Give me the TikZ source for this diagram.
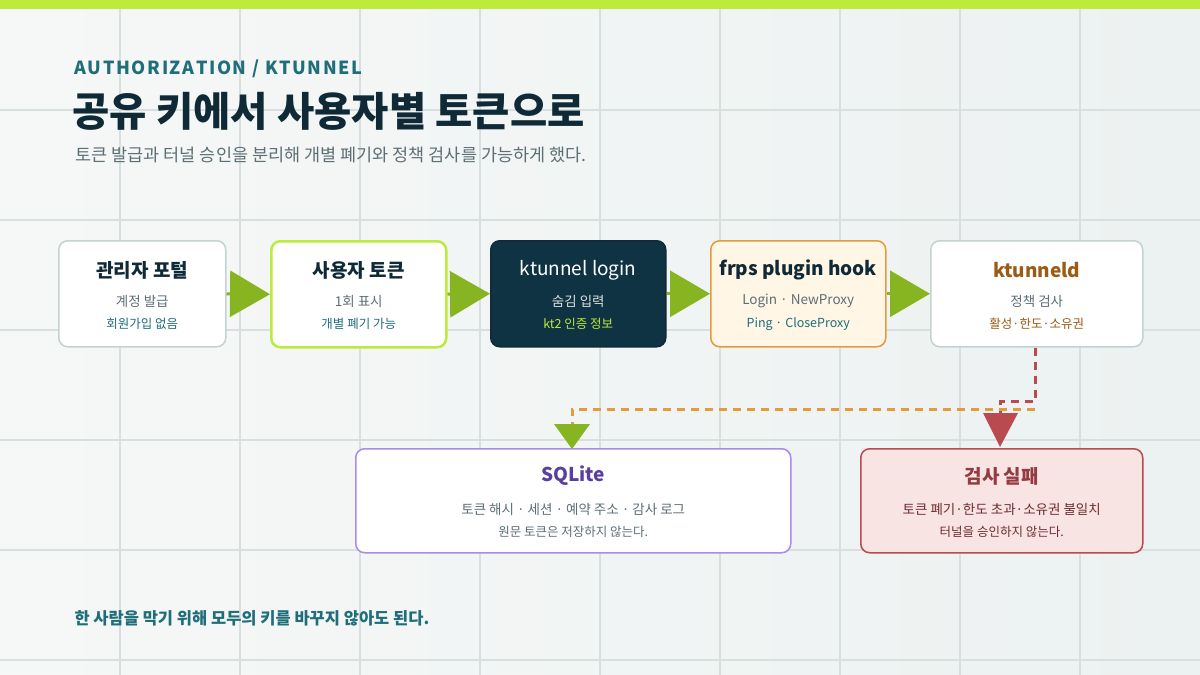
\documentclass[tikz,border=0pt]{standalone}
\usepackage{fontspec}
\setmainfont{Noto Sans CJK KR}
\usetikzlibrary{arrows.meta}
\definecolor{bgA}{HTML}{F6F8F7}\definecolor{bgB}{HTML}{ECF1F1}
\definecolor{grid}{HTML}{D8E0DF}\definecolor{lime}{HTML}{BCEB3C}
\definecolor{teal}{HTML}{1F6E7A}\definecolor{ink}{HTML}{0F2A36}
\definecolor{sub}{HTML}{5D6E75}\definecolor{arrowg}{HTML}{86B521}
\definecolor{navy}{HTML}{0F3342}\definecolor{orng}{HTML}{E39B3C}
\definecolor{brown}{HTML}{9A5B14}\definecolor{purp}{HTML}{5B3F9E}
\definecolor{lav}{HTML}{A98BEB}\definecolor{redd}{HTML}{B84A50}
\definecolor{pink}{HTML}{F9E4E4}\definecolor{cream}{HTML}{FFF6E6}
\definecolor{gbord}{HTML}{C3D3D2}
\begin{document}
\begin{tikzpicture}[x=1pt,y=-1pt,
 box/.style={draw,rounded corners=9pt,line width=1.5pt,anchor=north west},
 ttl/.style={font=\fontsize{19}{22}\selectfont\bfseries},
 l1/.style={font=\fontsize{13.5}{16}\selectfont,text=sub},
 l2/.style={font=\fontsize{12.5}{15}\selectfont},
 harr/.style={draw=arrowg,line width=3pt,-{Triangle[length=40pt,width=46pt]},shorten >=0pt},
 dsh/.style={line width=3pt,dash pattern=on 8pt off 6pt}]
\useasboundingbox (0,0) rectangle (1200,675);
\shade[left color=bgA,right color=bgB] (0,0) rectangle (1200,675);
\foreach \x in {120,240,...,1080} \draw[grid,line width=1.5pt] (\x,0)--(\x,675);
\foreach \y in {110,220,330,440,550,660} \draw[grid,line width=1.5pt] (0,\y)--(1200,\y);
\fill[lime] (0,0) rectangle (1200,9);
\node[anchor=west,text=teal,font=\fontsize{18}{22}\selectfont\bfseries] (kick) at (71,69) {A\kern1.6ptU\kern1.6ptT\kern1.6ptH\kern1.6ptO\kern1.6ptR\kern1.6ptI\kern1.6ptZ\kern1.6ptA\kern1.6ptT\kern1.6ptI\kern1.6ptO\kern1.6ptN\kern1.6pt\ /\ \kern1.6ptK\kern1.6ptT\kern1.6ptU\kern1.6ptN\kern1.6ptN\kern1.6ptE\kern1.6ptL};
\node[anchor=west,text=ink,font=\fontsize{40.5}{44}\selectfont\bfseries] (title) at (69,111) {공유 키에서 사용자별 토큰으로};
\node[anchor=west,text=sub,font=\fontsize{17.5}{20}\selectfont] (subt) at (72,155) {토큰 발급과 터널 승인을 분리해 개별 폐기와 정책 검사를 가능하게 했다.};
\node[anchor=west,text=teal,font=\fontsize{16.5}{20}\selectfont\bfseries] (foot) at (71,618) {한 사람을 막기 위해 모두의 키를 바꾸지 않아도 된다.};
% boxes
\node[box,draw=gbord,fill=white,minimum width=167pt,minimum height=106pt] (b1) at (58,240) {};
\node[box,draw=lime,line width=2.5pt,fill=white,minimum width=175pt,minimum height=106pt] (b2) at (270,240) {};
\node[box,draw=ink,fill=navy,minimum width=175pt,minimum height=106pt] (b3) at (490,240) {};
\node[box,draw=orng,fill=cream,minimum width=175pt,minimum height=106pt] (b4) at (710,240) {};
\node[box,draw=gbord,fill=white,minimum width=212pt,minimum height=106pt] (b5) at (930,240) {};
\node[box,draw=lav,fill=white,minimum width=435pt,minimum height=104pt] (b6) at (355,448) {};
\node[box,draw=redd,fill=pink,minimum width=282pt,minimum height=104pt] (b7) at (860,448) {};
% texts
\node[ttl,text=ink] at ([yshift=-30]b1.north) {관리자 포털};
\node[l1] at ([yshift=-61]b1.north) {계정 발급};
\node[l2,text=teal] at ([yshift=-84]b1.north) {회원가입 없음};
\node[ttl,text=ink] at ([yshift=-30]b2.north) {사용자 토큰};
\node[l1] at ([yshift=-61]b2.north) {1회 표시};
\node[l2,text=teal] at ([yshift=-84]b2.north) {개별 폐기 가능};
\node[ttl,text=white,font=\fontsize{19}{22}\selectfont] at ([yshift=-30]b3.north) {ktunnel login};
\node[l1,text=white!85!navy] at ([yshift=-61]b3.north) {숨김 입력};
\node[l2,text=lime] at ([yshift=-84]b3.north) {kt2 인증 정보};
\node[ttl,text=ink] at ([yshift=-30]b4.north) {frps plugin hook};
\node[l1] at ([yshift=-61]b4.north) {Login · NewProxy};
\node[l2,text=teal] at ([yshift=-84]b4.north) {Ping · CloseProxy};
\node[ttl,text=brown] at ([yshift=-30]b5.north) {ktunneld};
\node[l1] at ([yshift=-61]b5.north) {정책 검사};
\node[l2,text=brown] at ([yshift=-84]b5.north) {활성·한도·소유권};
\node[ttl,text=purp] at ([yshift=-28]b6.north) {SQLite};
\node[l1] at ([yshift=-61]b6.north) {토큰 해시 · 세션 · 예약 주소 · 감사 로그};
\node[l2,text=sub] at ([yshift=-84]b6.north) {원문 토큰은 저장하지 않는다.};
\node[ttl,text=redd!80!black] at ([yshift=-28]b7.north) {검사 실패};
\node[l1,text=redd!60!black] at ([yshift=-61]b7.north) {토큰 폐기·한도 초과·소유권 불일치};
\node[l2,text=redd!60!black] at ([yshift=-84]b7.north) {터널을 승인하지 않는다.};
% horizontal arrows
\draw[harr] (b1.east) -- (b2.west);
\draw[harr] (b2.east) -- (b3.west);
\draw[harr] (b3.east) -- (b4.west);
\draw[harr] (b4.east) -- (b5.west);
% dashed
\coordinate (c1) at (1035,409);
\draw[dsh,redd] (b5.south -| c1) -- (1035,401) -- (1000,401) -- (1000,415);
\fill[redd] (983,413) -- (1018,413) -- (1000,447) -- cycle;
\draw[dsh,orng] (c1) -- (572,409) -- (572,424);
\fill[arrowg] (554,424) -- (590,424) -- (572,449) -- cycle;
\end{tikzpicture}
\end{document}
